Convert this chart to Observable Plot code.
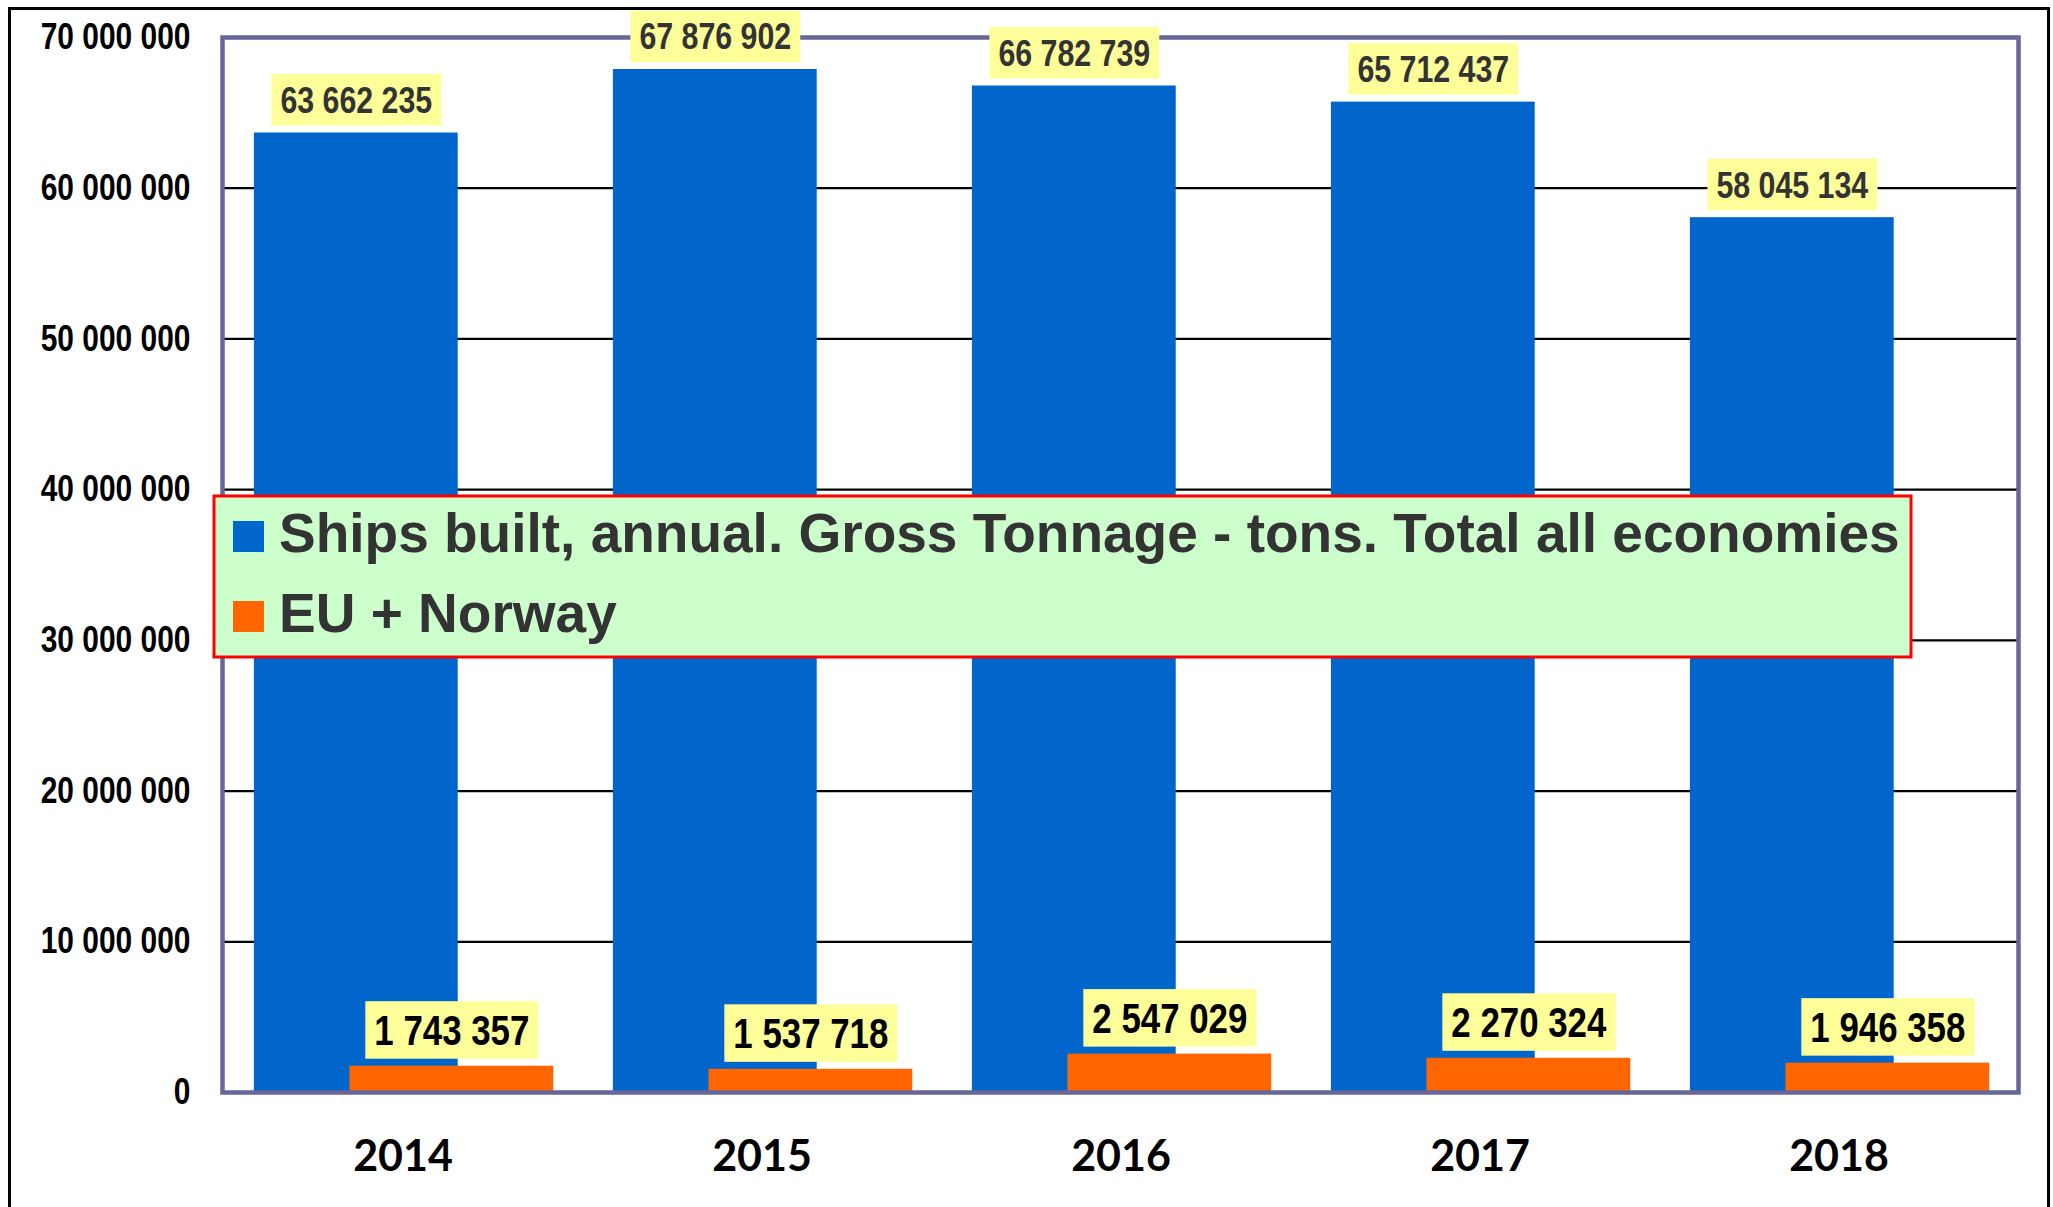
<!DOCTYPE html>
<html><head><meta charset="utf-8">
<script src="https://cdn.jsdelivr.net/npm/d3@7"></script>
<script src="https://cdn.jsdelivr.net/npm/@observablehq/plot@0.6"></script>
<style>
html,body{margin:0;padding:0;background:#fff;overflow:hidden;width:2053px;height:1207px;}
#wrap{position:relative;width:2053px;height:1207px;}
#wrap svg{position:absolute;left:0;top:0;}
#border{position:absolute;left:8px;top:7px;width:2042px;height:1230px;border:3px solid #000;box-sizing:border-box;pointer-events:none;}
</style></head>
<body><div id="wrap"><div id="border"></div></div>
<script>
// ---- data ----
const years = ["2014", "2015", "2016", "2017", "2018"];
const totalAll = [63662235, 67876902, 66782739, 65712437, 58045134];
const euNorway = [1743357, 1537718, 2547029, 2270324, 1946358];
const yTicks = [0, 10000000, 20000000, 30000000, 40000000, 50000000, 60000000, 70000000];
const seriesNames = ["Ships built, annual. Gross Tonnage - tons. Total all economies", "EU + Norway"];
const colors = ["#0066CC", "#FF6600"];

// ---- layout ----
const W = 2053, H = 1207, mL = 222, mR = 35, mT = 37, mB = 115;
const band = (W - mL - mR) / years.length;
const barW = band * 0.568;
const blueStart = band * 0.086;
const orangeStart = band * 0.352;
const sans = "'Liberation Sans',Arial,sans-serif";
const fmt = v => d3.format(",")(v).replace(/,/g, " ");

const blueData = years.map((y, i) => ({year: y, value: totalAll[i]}));
const orangeData = years.map((y, i) => ({year: y, value: euNorway[i]}));

const chart = Plot.plot({
  width: W, height: H,
  marginLeft: mL, marginRight: mR, marginTop: mT, marginBottom: mB,
  style: {background: "transparent", fontFamily: sans, overflow: "visible"},
  x: {type: "band", domain: years, padding: 0, label: null},
  y: {domain: [0, 70000000], label: null},
  marks: [
    Plot.ruleY(yTicks.filter(d => d > 0 && d < 70000000), {stroke: "#000", strokeWidth: 2.2}),
    Plot.barY(blueData, {x: "year", y: "value", fill: colors[0],
      insetLeft: blueStart, insetRight: band - blueStart - barW}),
    Plot.barY(orangeData, {x: "year", y: "value", fill: colors[1],
      insetLeft: orangeStart, insetRight: band - orangeStart - barW}),
    Plot.frame({stroke: "#666699", strokeWidth: 4.5}),
    Plot.text(blueData, {x: "year", y: "value", text: d => fmt(d.value),
      dx: blueStart + barW / 2 - band / 2, dy: -20, lineAnchor: "bottom",
      fontSize: 37, fontWeight: "bold", fontFamily: sans, fill: "#333333"}),
    Plot.text(orangeData, {x: "year", y: "value", text: d => fmt(d.value),
      dx: orangeStart + barW / 2 - band / 2, dy: -21, lineAnchor: "bottom",
      fontSize: 42.5, fontWeight: "bold", fontFamily: sans, fill: "#000000"}),
    Plot.axisY({ticks: yTicks, tickFormat: fmt, tickSize: 0, tickPadding: 32,
      fontSize: 36.5, fontWeight: "bold", fontFamily: sans, fill: "#000", label: null}),
    Plot.axisX({tickSize: 0, tickPadding: 48, fontSize: 43, fontWeight: "bold",
      fontFamily: "Lato,'Open Sans',sans-serif", fill: "#000", label: null})
  ]
});
document.getElementById("wrap").appendChild(chart);
const svg = d3.select(chart);

// condense (Arial Narrow look) for value labels and y tick labels
function condense(sel) {
  sel.each(function () {
    const len = this.getComputedTextLength();
    this.setAttribute("textLength", (len * 0.82).toFixed(2));
    this.setAttribute("lengthAdjust", "spacingAndGlyphs");
  });
}
condense(svg.selectAll('g[aria-label="text"] text'));
condense(svg.selectAll('g[aria-label="y-axis tick label"] text'));

// yellow label boxes behind value labels
svg.selectAll('g[aria-label="text"]').each(function () {
  d3.select(this).selectAll("text").each(function () {
    const t = this, b = t.getBBox();
    const r = document.createElementNS("http://www.w3.org/2000/svg", "rect");
    r.setAttribute("x", b.x - 9);
    r.setAttribute("y", b.y - 6);
    r.setAttribute("width", b.width + 18);
    r.setAttribute("height", b.height + 10.5);
    r.setAttribute("fill", "#FFFF99");
    const tr = t.getAttribute("transform");
    if (tr) r.setAttribute("transform", tr);
    t.parentNode.insertBefore(r, t);
  });
});

// legend overlay
const lg = svg.append("g").attr("class", "legend").attr("text-anchor", "start");
lg.append("rect").attr("x", 214).attr("y", 496).attr("width", 1697).attr("height", 161)
  .attr("fill", "#CCFFCC").attr("stroke", "#FF0000").attr("stroke-width", 3);
seriesNames.forEach((name, i) => {
  const base = 552 + i * 80;
  lg.append("rect").attr("x", 233).attr("y", base - 31).attr("width", 31).attr("height", 31)
    .attr("fill", colors[i]);
  lg.append("text").attr("x", 279).attr("y", base).attr("text-anchor", "start")
    .attr("font-family", sans).attr("font-weight", "bold")
    .attr("font-size", 55).attr("fill", "#333333").text(name);
});
</script>
</body></html>
